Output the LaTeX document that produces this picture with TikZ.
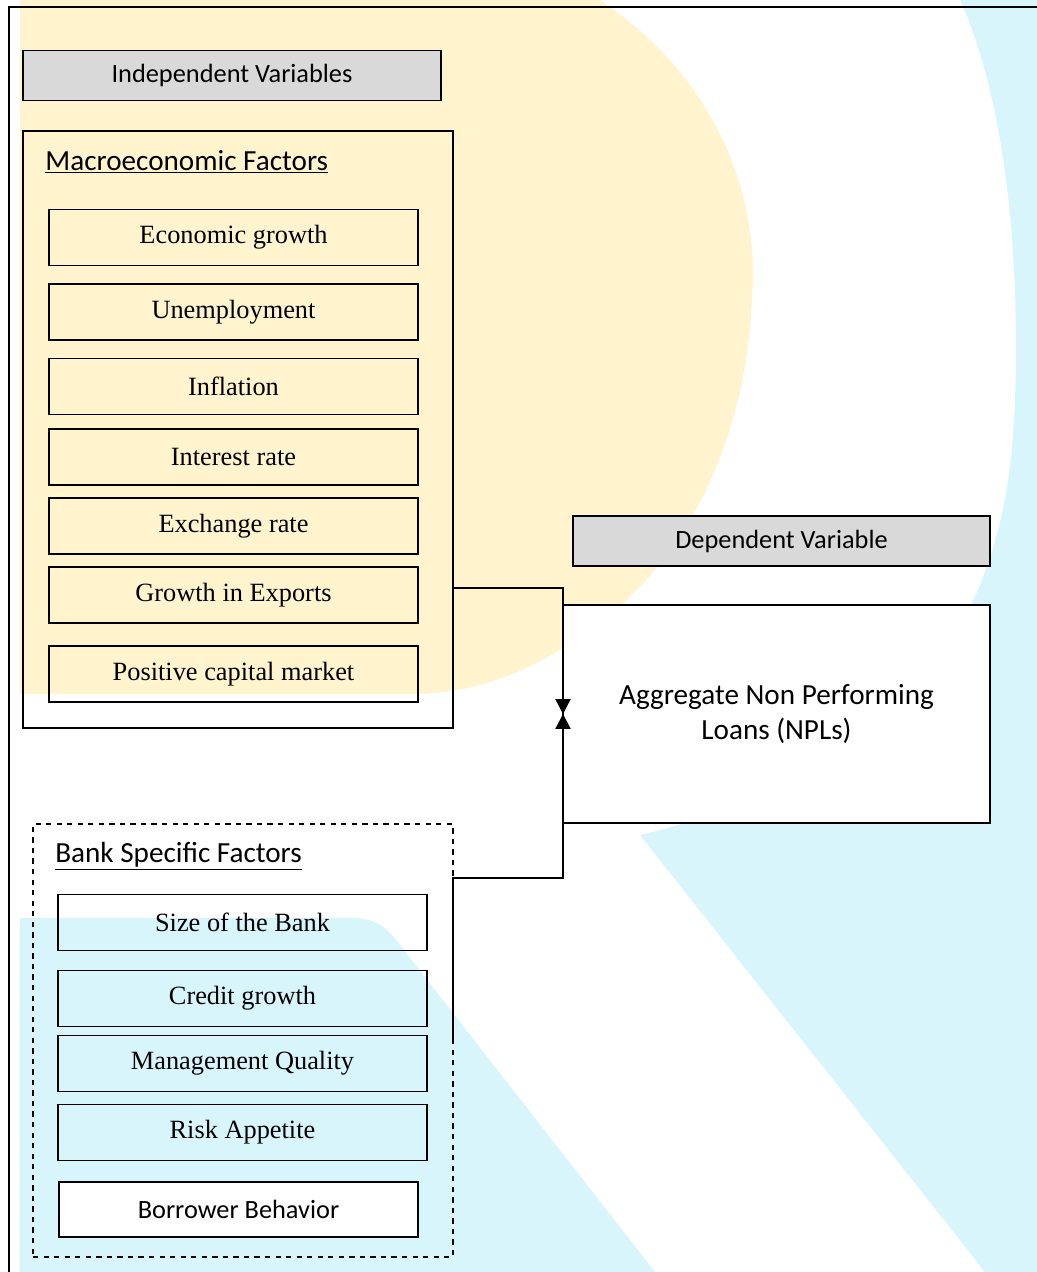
\documentclass[tikz,border=0pt]{standalone}
\usepackage{fontspec}
\setmainfont{Carlito}
\newfontfamily\tnr{Liberation Serif}
\usepackage{tikz}
\usetikzlibrary{arrows.meta,positioning,calc}
\definecolor{wmYel}{RGB}{255,244,206}
\definecolor{wmBlue}{RGB}{217,245,252}
\definecolor{hdGray}{RGB}{217,217,217}

\begin{document}
\begin{tikzpicture}[x=0.02cm, y=-0.02cm,
  font=\fontsize{15}{18}\selectfont, >={Triangle[length=8.5pt,width=8.5pt]},
  hdr/.style={rectangle, draw=black, fill=hdGray, line width=0.9pt,
              minimum height=1.0cm, inner sep=0pt},
  grp/.style={rectangle, draw=black, line width=0.8pt, inner sep=0pt},
  fac/.style={rectangle, draw=black, line width=0.9pt, minimum width=7.38cm,
              minimum height=1.12cm, inner sep=0pt, font=\tnr\fontsize{15}{18}\selectfont},
  ttl/.style={anchor=base west, inner sep=0pt, font=\fontsize{16.6}{20}\selectfont},
  link/.style={line width=1.3pt}]
  \useasboundingbox (0,0) rectangle (1037,1272);
  % watermark behind the figure
  \fill[wmYel] (20,0) -- (600,0) .. controls (720,80) and (760,200) .. (752,300)
    .. controls (745,450) and (680,580) .. (560,650)
    .. controls (500,685) and (460,692) .. (420,694) -- (20,694) -- cycle;
  \fill[wmBlue] (1037,0) -- (960,0) .. controls (1005,100) and (1020,250) .. (1015,400)
    .. controls (1010,560) and (960,760) .. (640,835) -- (985,1272) -- (1037,1272) -- cycle;
  \fill[wmBlue] (20,918) -- (350,918) .. controls (375,918) and (385,925) .. (400,945)
    -- (655,1272) -- (20,1272) -- cycle;
  % page frame
  \draw[line width=0.8pt] (1037,7) -- (9,7) -- (9,1272);

  \node[hdr, minimum width=8.36cm] (indep) at (232,75.5) {Independent Variables};
  \node[grp, minimum width=8.6cm, minimum height=11.94cm] (mac) at (238,429.5) {};
  \node[ttl] (macT) at (45,170) {\underline{Macroeconomic Factors}};
  \node[fac] (f1) at (233.5,237.5) {Economic growth};
  \node[fac] (f2) at (233.5,312) {Unemployment};
  \node[fac] (f3) at (233.5,386.5) {Inflation};
  \node[fac] (f4) at (233.5,457) {Interest rate};
  \node[fac] (f5) at (233.5,526) {Exchange rate};
  \node[fac] (f6) at (233.5,595) {Growth in Exports};
  \node[fac] (f7) at (233.5,674) {Positive capital market};

  \node[grp, dashed, minimum width=8.4cm, minimum height=8.66cm] (bank) at (243,1040.5) {};
  \node[ttl] (bankT) at (55,862) {\underline{Bank Specific Factors}};
  \node[fac] (b1) at (242.5,922.5) {Size of the Bank};
  \node[fac] (b2) at (242.5,998.5) {Credit growth};
  \node[fac] (b3) at (242.5,1063.5) {Management Quality};
  \node[fac] (b4) at (242.5,1132.5) {Risk Appetite};
  \node[fac, fill=white, minimum width=7.18cm, minimum height=1.1cm,
        font=\fontsize{15}{18}\selectfont] (b5) at (238.5,1209.5) {Borrower Behavior};

  \node[hdr, minimum width=8.34cm] (dep) at (781.5,541) {Dependent Variable};
  \node[rectangle, draw=black, fill=white, line width=0.9pt, minimum width=8.54cm,
        minimum height=4.36cm, align=center, inner sep=0pt,
        font=\fontsize{16.6}{19.8}\selectfont] (npl) at (776.5,714)
        {Aggregate Non Performing\\ Loans (NPLs)};

  \coordinate (macTop) at (453,463);
  \coordinate (macBend) at (563,588);
  \coordinate (bankBot) at (453,1040);
  \coordinate (bankBend) at (563,878);
  \draw[link, ->] (macTop) |- (macBend) -- (macBend |- npl.west);
  \draw[link, ->] (bankBot) |- (bankBend) -- (bankBend |- npl.west);
\end{tikzpicture}
\end{document}
